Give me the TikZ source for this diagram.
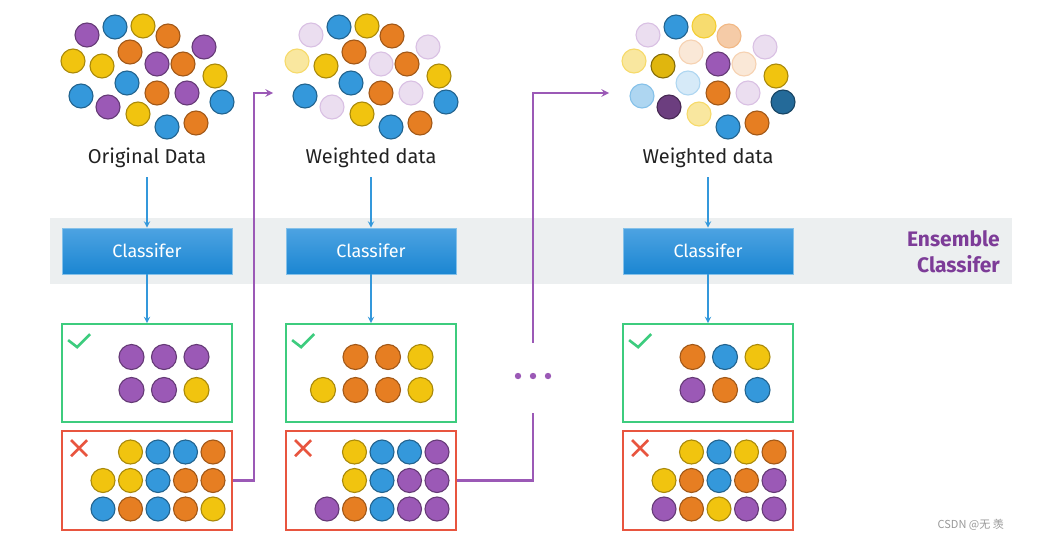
\documentclass[tikz,border=0pt]{standalone}
\usepackage{fontspec}
\setmainfont{Fira Sans}
\newfontfamily\cjkfont{Noto Sans CJK SC}
\definecolor{pur}{HTML}{9B59B6}
\definecolor{blu}{HTML}{3498DB}
\definecolor{yel}{HTML}{F1C40F}
\definecolor{ora}{HTML}{E67E22}
\definecolor{okgreen}{HTML}{3DCC7E}
\definecolor{errred}{HTML}{E8553F}
\definecolor{bandgray}{HTML}{ECEFF0}
\definecolor{ensviolet}{HTML}{7D3C98}
\definecolor{clftop}{HTML}{4DA3E2}
\definecolor{clfbot}{HTML}{1B86D2}
\begin{document}
\begin{tikzpicture}[x=1pt,y=-1pt,>=stealth,
  ball/.style={line width=1.1pt},
  cP/.style={ball,fill=pur,draw=pur!65!black},
  cB/.style={ball,fill=blu,draw=blu!65!black},
  cY/.style={ball,fill=yel,draw=yel!70!black},
  cO/.style={ball,fill=ora,draw=ora!70!black},
  lP/.style={ball,fill=pur!20,draw=pur!38},
  lY/.style={ball,fill=yel!40,draw=yel!62},
  mY/.style={ball,fill=yel!60,draw=yel!85},
  lO/.style={ball,fill=ora!18,draw=ora!35},
  mO/.style={ball,fill=ora!40,draw=ora!55},
  lB/.style={ball,fill=blu!20,draw=blu!40},
  mB/.style={ball,fill=blu!40,draw=blu!60},
  dP/.style={ball,fill=pur!70!black,draw=pur!45!black},
  dB/.style={ball,fill=blu!70!black,draw=blu!45!black},
  dY/.style={ball,fill=yel!93!black,draw=yel!55!black},
  lbl/.style={inner sep=0pt,text=black!87,font=\fontsize{20pt}{24pt}\selectfont},
  clf/.style={minimum width=170pt,minimum height=46pt,inner sep=0pt,top color=clftop,bottom color=clfbot,draw=blu!60,line width=0.6pt,text=white,font=\fontsize{18pt}{22pt}\selectfont},
  good/.style={draw=okgreen,line width=1.8pt,minimum width=170pt,minimum height=98pt,inner sep=0pt},
  bad/.style={draw=errred,line width=1.8pt,minimum width=170pt,minimum height=99pt,inner sep=0pt},
  feed/.style={draw=blu,line width=1.8pt,->},
  flow/.style={draw=pur,line width=2.3pt},
  tick/.style={draw=okgreen,line width=2.6pt},
  cross/.style={draw=errred,line width=2.6pt},
  ens/.style={anchor=east,align=right,inner sep=0pt,text=ensviolet,font=\bfseries\fontsize{21pt}{26pt}\selectfont}]
\useasboundingbox (0,0) rectangle (1051,543);
\node[fill=bandgray,minimum width=962pt,minimum height=66pt,inner sep=0pt] (band) at (531,251) {};
\node[ens] (ens) at (1000,252) {Ensemble\\Classifer};
\foreach \cx/\n/\txt in {147/1/Original Data,371/2/Weighted data,708/3/Weighted data}{
  \node[lbl] (lab\n) at (\cx,158) {\txt};
  \node[clf] (clf\n) at (\cx,251) {Classifer};
  \node[good] (good\n) at (\cx,373) {};
  \node[bad] (bad\n) at (\cx,480.5) {};
  \draw[feed,shorten <=9pt] (lab\n.south) -- (clf\n.north);
  \draw[feed] (clf\n.south) -- (good\n.north);
  \draw[tick] ([shift={(7,17)}]good\n.north west) -- ++(9,7) -- ++(13,-13);
  \draw[cross] ([shift={(10,10)}]bad\n.north west) -- ++(16,16) ([shift={(26,10)}]bad\n.north west) -- ++(-16,16);
}
\foreach \x/\y/\a/\b/\c in {87/35/cP/lP/lP,115/27/cB/cB/cB,143/26/cY/cY/mY,168/36/cO/cO/mO,204/47/cP/lP/lP,
  73/61/cY/lY/lY,102/66/cY/cY/dY,130/52/cO/cO/lO,157/64/cP/lP/cP,183/64/cO/cO/lO,215/76/cY/cY/cY,
  81/96/cB/cB/mB,127/83/cB/cB/lB,157/93/cO/cO/cO,187/93/cP/lP/lP,222/102/cB/cB/dB,
  108/107/cP/lP/dP,138/114/cY/cY/lY,167/127/cB/cB/cB,196/123/cO/cO/cO}{
  \draw[\a] (\x,\y) circle (12pt);
  \draw[\b] (\x+224,\y) circle (12pt);
  \draw[\c] (\x+561,\y) circle (12pt);
}
\foreach \i/\j/\c in {1/0/cP,2/0/cP,3/0/cP,1/1/cP,2/1/cP,3/1/cY}
  \draw[\c] (99+32.5*\i,357+33*\j) circle (12.5pt);
\foreach \i/\j/\c in {1/0/cO,2/0/cO,3/0/cY,0/1/cY,1/1/cO,2/1/cO,3/1/cY}
  \draw[\c] (323+32.5*\i,357+33*\j) circle (12.5pt);
\foreach \i/\j/\c in {1/0/cO,2/0/cB,3/0/cY,1/1/cP,2/1/cO,3/1/cB}
  \draw[\c] (660+32.5*\i,357+33*\j) circle (12.5pt);
\foreach \i/\j/\c in {1/0/cY,2/0/cB,3/0/cB,4/0/cO,0/1/cY,1/1/cY,2/1/cB,3/1/cO,4/1/cO,0/2/cB,1/2/cO,2/2/cB,3/2/cO,4/2/cY}
  \draw[\c] (103+27.5*\i,452+28.5*\j) circle (12pt);
\foreach \i/\j/\c in {1/0/cY,2/0/cB,3/0/cB,4/0/cP,1/1/cY,2/1/cB,3/1/cP,4/1/cP,0/2/cP,1/2/cO,2/2/cB,3/2/cP,4/2/cP}
  \draw[\c] (327+27.5*\i,452+28.5*\j) circle (12pt);
\foreach \i/\j/\c in {1/0/cY,2/0/cB,3/0/cY,4/0/cO,0/1/cY,1/1/cO,2/1/cB,3/1/cO,4/1/cP,0/2/cP,1/2/cO,2/2/cY,3/2/cP,4/2/cP}
  \draw[\c] (664+27.5*\i,452+28.5*\j) circle (12pt);
\coordinate (in2) at (273,93);
\coordinate (in3) at (609,93);
\node[minimum width=40pt,minimum height=70pt,inner sep=0pt] (dots) at (533,378) {};
\foreach \d in {-15,0,15} \fill[pur] ([shift={(\d,-2)}]dots.center) circle (3.2pt);
\draw[flow,->] (bad1.east) -- ++(21,0) |- (in2);
\draw[flow] (bad2.east) -| (dots.south);
\draw[flow,->] (dots.north) |- (in3);
\node[anchor=east,inner sep=0pt,text=black!40,font=\cjkfont\fontsize{11pt}{13pt}\selectfont] (mark) at (1004,525) {CSDN @无 羡};
\end{tikzpicture}
\end{document}
